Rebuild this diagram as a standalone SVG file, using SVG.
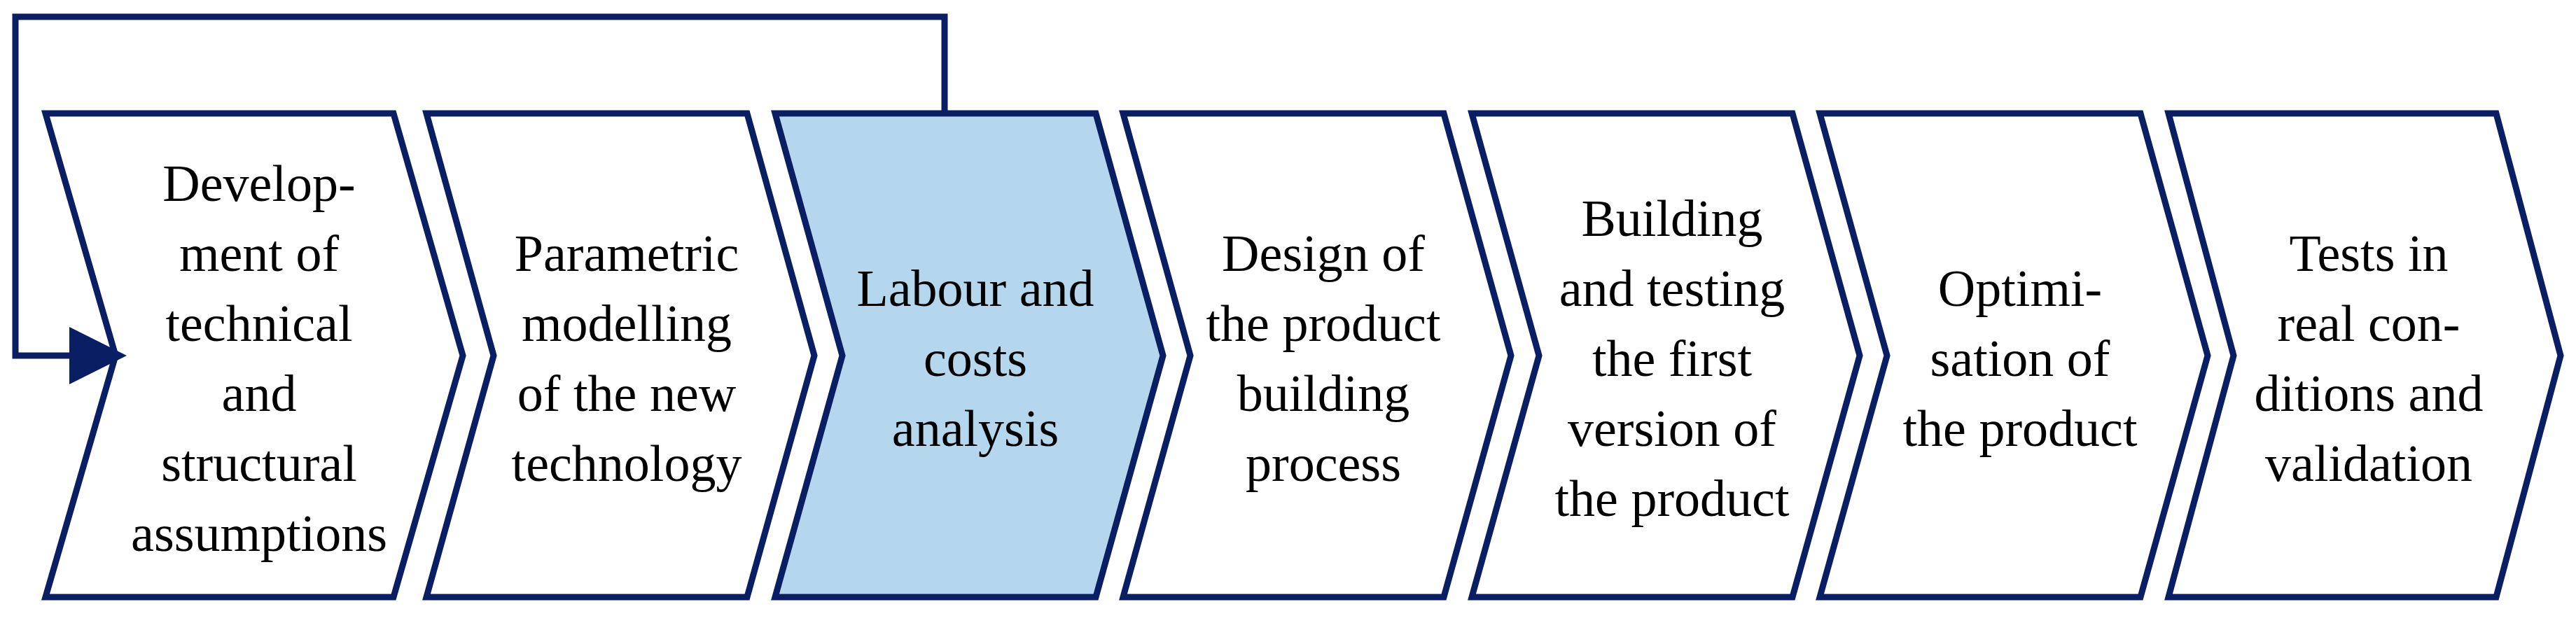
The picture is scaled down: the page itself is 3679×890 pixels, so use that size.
<svg xmlns="http://www.w3.org/2000/svg" width="3679" height="890" viewBox="0 0 3679 890">
<style>
.c{fill:#fff;stroke:#0a1f63;stroke-width:9;stroke-linejoin:miter}
.h{fill:#b4d7ee}
.t{font-family:"Liberation Serif","Times New Roman",serif;font-size:74px;fill:#000;text-anchor:middle}
.l{fill:none;stroke:#0a1f63;stroke-width:9}
</style>
<rect width="3679" height="890" fill="#fff"/>
<g id="n1"><path class="c" d="M65,162 H562 L661,508 L562,853 H65 L165,508 Z"/>
<text class="t" x="370" y="287">Develop-<tspan x="370" dy="100">ment of</tspan><tspan x="370" dy="100">technical</tspan><tspan x="370" dy="100">and</tspan><tspan x="370" dy="100">structural</tspan><tspan x="370" dy="100">assumptions</tspan></text></g>
<g id="n2"><path class="c" d="M609,162 H1067 L1163,508 L1067,853 H609 L705,508 Z"/>
<text class="t" x="895" y="387">Parametric<tspan x="895" dy="100">modelling</tspan><tspan x="895" dy="100">of the new</tspan><tspan x="895" dy="100">technology</tspan></text></g>
<g id="n3"><path class="c h" d="M1107,162 H1565 L1661,508 L1565,853 H1107 L1203,508 Z"/>
<text class="t" x="1393" y="437">Labour and<tspan x="1393" dy="100">costs</tspan><tspan x="1393" dy="100">analysis</tspan></text></g>
<g id="n4"><path class="c" d="M1604,162 H2062 L2158,508 L2062,853 H1604 L1700,508 Z"/>
<text class="t" x="1890" y="387">Design of<tspan x="1890" dy="100">the product</tspan><tspan x="1890" dy="100">building</tspan><tspan x="1890" dy="100">process</tspan></text></g>
<g id="n5"><path class="c" d="M2102,162 H2560 L2656,508 L2560,853 H2102 L2198,508 Z"/>
<text class="t" x="2388" y="337">Building<tspan x="2388" dy="100">and testing</tspan><tspan x="2388" dy="100">the first</tspan><tspan x="2388" dy="100">version of</tspan><tspan x="2388" dy="100">the product</tspan></text></g>
<g id="n6"><path class="c" d="M2599,162 H3057 L3153,508 L3057,853 H2599 L2695,508 Z"/>
<text class="t" x="2885" y="437">Optimi-<tspan x="2885" dy="100">sation of</tspan><tspan x="2885" dy="100">the product</tspan></text></g>
<g id="n7"><path class="c" d="M3097,162 H3565 L3657,508 L3565,853 H3097 L3190,508 Z"/>
<text class="t" x="3383" y="387">Tests in<tspan x="3383" dy="100">real con-</tspan><tspan x="3383" dy="100">ditions and</tspan><tspan x="3383" dy="100">validation</tspan></text></g>
<g id="connectors">
<path class="l" d="M1349,158 V24 H22 V508 H105"/>
<path d="M99,467 L181,508 L99,549 Z" fill="#0a1f63"/>
</g>
</svg>
